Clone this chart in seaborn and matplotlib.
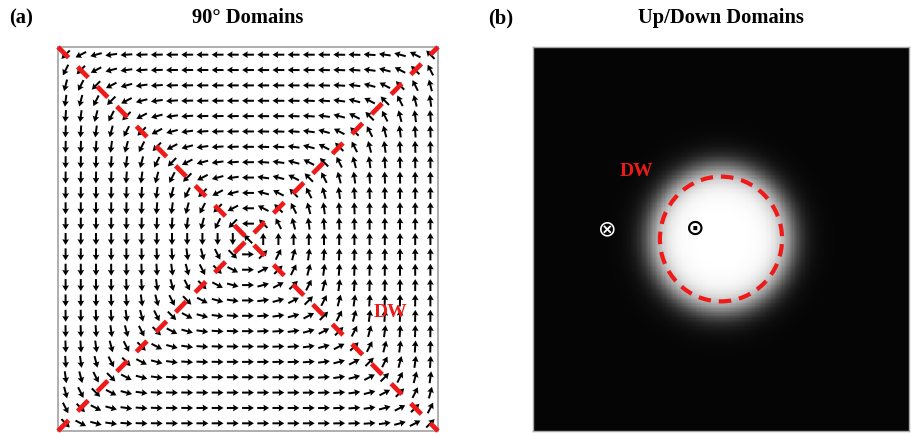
import numpy as np
import matplotlib
matplotlib.use("Agg")
import matplotlib.pyplot as plt
import seaborn as sns
from matplotlib.patches import Circle

# ---- labels ----
titles = ["90° Domains", "Up/Down Domains"]
panel_tags = ["(a)", "(b)"]
wall_label = "DW"
up_symbol, down_symbol = "⊙", "⊗"

# ---- panel (a): flux-closure (Landau) texture on a square grid ----
grid_n = 25            # arrows per side
wall_width = 1.5       # width of the 90° walls, in grid cells
arrow_length = 0.78    # arrow length, in grid cells
wall_label_pos = (9.4, -4.8)

# ---- panel (b): bubble domain, normalised units (half-width = 1) ----
image_n = 300
bubble_radius = 0.325  # dashed wall position
glow_centre = 0.372    # half-intensity radius of the bright domain
glow_width = 0.042
up_pos = (-0.138, 0.052)
down_pos = (-0.606, 0.052)
dw_pos = (-0.452, 0.349)

red = "#ee1a1a"
frame = "#a8a8a8"

sns.set_theme(style="white")
plt.rcParams["font.family"] = ["Liberation Serif", "DejaVu Sans"]
plt.rcParams["text.color"] = "black"

W, H = 911, 433
fig = plt.figure(figsize=(W / 100, H / 100), dpi=100)


def box(x0, y0, x1, y1):
    return [x0 / W, 1 - y1 / H, (x1 - x0) / W, (y1 - y0) / H]


ax_a = fig.add_axes(box(58, 47, 438, 431))
ax_b = fig.add_axes(box(533, 47, 909, 431))

# ---------------- (a) 90° domains ----------------
k = np.arange(grid_n) - (grid_n - 1) / 2
X, Y = np.meshgrid(k, k)
# gradient of a smoothed max(|x|, |y|); rotating it by 90° gives the closure loop
gx = np.sign(X) * np.exp(np.abs(X) / wall_width)
gy = np.sign(Y) * np.exp(np.abs(Y) / wall_width)
U, V = -gy, gx
norm = np.hypot(U, V)
core = norm == 0
U = np.where(core, -1.0, U)
V = np.where(core, 1.0, V)
norm = np.hypot(U, V)
U, V = U / norm * arrow_length, V / norm * arrow_length

ax_a.quiver(X, Y, U, V, angles="xy", scale_units="xy", scale=1, pivot="mid",
            units="xy", width=0.13, headwidth=3.4, headlength=2.9,
            headaxislength=2.6, color="black", zorder=3)

lim = grid_n / 2
for s in (1, -1):
    ax_a.plot([-lim, lim], [s * lim, -s * lim], color=red, lw=3.4,
              dashes=(3.2, 2.7), dash_capstyle="butt", clip_on=False, zorder=5)

ax_a.text(*wall_label_pos, wall_label, color=red, fontsize=14,
          fontweight="bold", ha="center", va="center", zorder=6)
ax_a.set_xlim(-lim, lim)
ax_a.set_ylim(-lim, lim)
ax_a.set_xticks([])
ax_a.set_yticks([])
for sp in ax_a.spines.values():
    sp.set_visible(True)
    sp.set_color(frame)
    sp.set_linewidth(1.3)

# ---------------- (b) up/down domains ----------------
t = np.linspace(-1, 1, image_n)
XX, YY = np.meshgrid(t, t[::-1])
R = np.hypot(XX, YY)
intensity = 1.0 / (1.0 + np.exp((R - glow_centre) / glow_width))

sns.heatmap(intensity, ax=ax_b, cmap="gray", vmin=-0.02, vmax=1, cbar=False,
            xticklabels=False, yticklabels=False, rasterized=True)


def to_cells(x, y):
    return (x + 1) / 2 * image_n, (1 - y) / 2 * image_n


ax_b.add_patch(Circle(to_cells(0, 0), bubble_radius * image_n / 2, fill=False,
                      ec=red, lw=3.0, ls=(0, (3.0, 1.9)), zorder=5))
ax_b.text(*to_cells(*up_pos), up_symbol, color="black", fontsize=16,
          family="DejaVu Sans", fontweight="bold", ha="center", va="center",
          zorder=6)
ax_b.text(*to_cells(*down_pos), down_symbol, color="white", fontsize=16,
          family="DejaVu Sans", ha="center", va="center", zorder=6)
ax_b.text(*to_cells(*dw_pos), wall_label, color=red, fontsize=14,
          fontweight="bold", ha="center", va="center", zorder=6)
for sp in ax_b.spines.values():
    sp.set_visible(True)
    sp.set_color(frame)
    sp.set_linewidth(1.0)

# ---------------- titles ----------------
for ax, title, tag, tag_x in zip((ax_a, ax_b), titles, panel_tags, (21, 501)):
    pos = ax.get_position()
    fig.text(pos.x0 + pos.width / 2, 1 - 18 / H, title, fontsize=14.8,
             fontweight="bold", ha="center", va="center")
    fig.text(tag_x / W, 1 - 18 / H, tag, fontsize=14.8, fontweight="bold",
             ha="center", va="center")

fig.savefig("out.png", dpi=100, facecolor="white")
